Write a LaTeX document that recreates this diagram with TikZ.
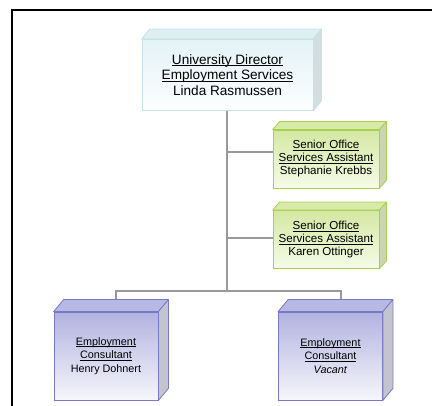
\documentclass[tikz,border=0pt]{standalone}
\usepackage{fontspec}
\setmainfont{Liberation Sans}
\usetikzlibrary{calc}
\definecolor{cyanBorder}{HTML}{C4E2E8}
\definecolor{cyanTop}{HTML}{E4F3F6}
\definecolor{cyanBot}{HTML}{FBFEFE}
\definecolor{cyanLid}{HTML}{DCEFF2}
\definecolor{cyanSide}{HTML}{D2DEE0}
\definecolor{grnBorder}{HTML}{A8D050}
\definecolor{grnTop}{HTML}{D4E8A2}
\definecolor{grnBot}{HTML}{F6FBE8}
\definecolor{grnLid}{HTML}{D8EAA8}
\definecolor{grnSide}{HTML}{CDD4B2}
\definecolor{purBorder}{HTML}{7878C8}
\definecolor{purTop}{HTML}{B2B2E0}
\definecolor{purBot}{HTML}{F6F6FC}
\definecolor{purLid}{HTML}{B8B8E4}
\definecolor{purSide}{HTML}{C4C4CE}
\definecolor{connGray}{HTML}{999999}
\newlength{\myulw}
\newcommand{\myul}[1]{\settowidth{\myulw}{#1}\rlap{\rule[-1.7pt]{\myulw}{0.65pt}}#1}
\newcommand{\cubefaces}[6]{%
  \filldraw[fill=#4, draw=#6, line width=0.8pt, line join=round]
    (#1.north west) -- ($(#1.north west)+(#2,-#3)$) -- ($(#1.north east)+(#2,-#3)$) -- (#1.north east) -- cycle;
  \filldraw[fill=#5, draw=#6, line width=0.8pt, line join=round]
    (#1.north east) -- ($(#1.north east)+(#2,-#3)$) -- ($(#1.south east)+(#2,-#3)$) -- (#1.south east) -- cycle;
}
\begin{document}
\begin{tikzpicture}[x=1pt,y=-1pt,
  face/.style={draw, rectangle, inner sep=0pt, align=center, line width=0.8pt},
  cyanbox/.style={face, draw=cyanBorder, top color=cyanTop, bottom color=cyanBot,
    minimum width=171pt, minimum height=71pt, font=\fontsize{13.6}{15.5}\selectfont},
  grnbox/.style={face, draw=grnBorder, top color=grnTop, bottom color=grnBot,
    minimum width=106pt, minimum height=58pt, font=\fontsize{11.6}{13}\selectfont},
  purbox/.style={face, draw=purBorder, top color=purTop, bottom color=purBot,
    minimum width=104pt, minimum height=88pt, font=\fontsize{10.8}{13.5}\selectfont},
  conn/.style={draw=connGray, line width=2pt},
  frameline/.style={draw=black, line width=2pt}
]
\useasboundingbox (0,0) rectangle (432,406);
% frame
\coordinate (fTL) at (12,10);
\coordinate (fTR) at (432,10);
\coordinate (fBL) at (12,406);
\draw[frameline] (fTR) -- (fTL) -- (fBL);

% connectors (drawn first)
\coordinate (trunkTop) at (227,111);
\coordinate (hub) at (227,291);
\coordinate (b1) at (227,152);
\coordinate (b2) at (227,238);
\coordinate (b1e) at (273,152);
\coordinate (b2e) at (273,238);
\coordinate (p1top) at (116,300);
\coordinate (p2top) at (341,300);
\draw[conn] (trunkTop) -- (hub);
\draw[conn] (b1) -- (b1e);
\draw[conn] (b2) -- (b2e);
\draw[conn] (p1top) |- (hub) -| (p2top);

% top box
\node[cyanbox] (dir) at (227.5,75) {\myul{University Director}\\\myul{Employment Services}\\Linda Rasmussen};
\cubefaces{dir}{8}{10}{cyanLid}{cyanSide}{cyanBorder}

% green boxes
\node[grnbox] (soa1) at (326,159) {\myul{Senior Office}\\\myul{Services Assistant}\\Stephanie Krebbs};
\cubefaces{soa1}{7}{8}{grnLid}{grnSide}{grnBorder}
\node[grnbox] (soa2) at (326,239.5) {\myul{Senior Office}\\\myul{Services Assistant}\\Karen Ottinger};
\cubefaces{soa2}{7}{8}{grnLid}{grnSide}{grnBorder}

% purple boxes
\node[purbox] (ec1) at (106,356) {\myul{Employment}\\\myul{Consultant}\\Henry Dohnert};
\cubefaces{ec1}{10}{12}{purLid}{purSide}{purBorder}
\node[purbox] (ec2) at (330.5,356) {\myul{Employment}\\\myul{Consultant}\\\textit{Vacant}};
\cubefaces{ec2}{10}{12}{purLid}{purSide}{purBorder}
\end{tikzpicture}
\end{document}
